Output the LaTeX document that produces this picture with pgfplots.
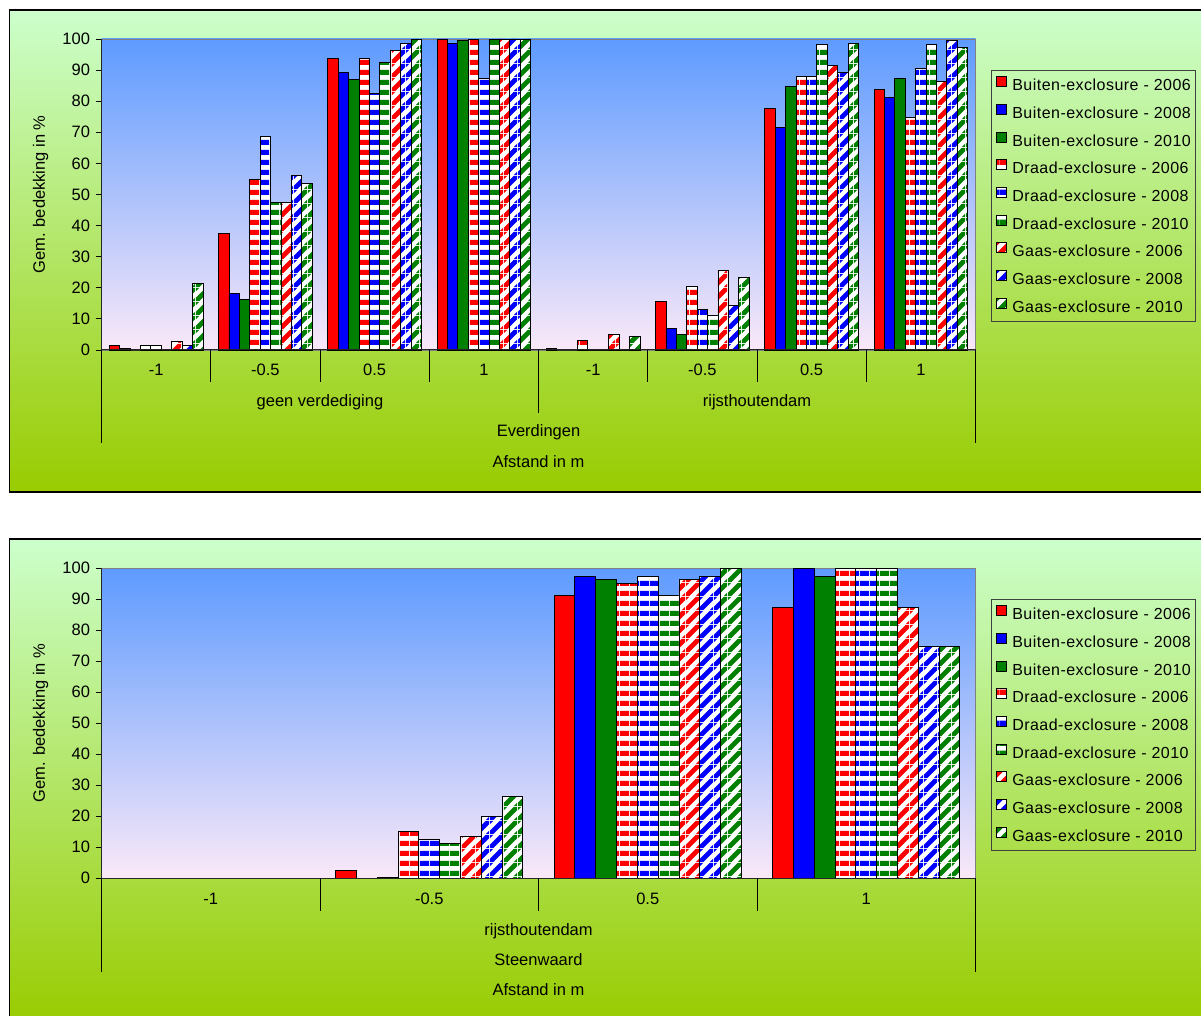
\documentclass[border=0pt]{standalone}
\usepackage{fontspec}
\setmainfont{Liberation Sans}
\newfontfamily\legfont[LetterSpace=3]{Liberation Sans}
\usepackage{pgfplots}
\usepackage{pgfplotstable}
\pgfplotsset{compat=1.18}
\usetikzlibrary{patterns}

\definecolor{xred}{RGB}{255,0,0}
\definecolor{xblue}{RGB}{0,0,255}
\definecolor{xgreen}{RGB}{0,128,0}
\definecolor{frametop}{RGB}{204,255,204}
\definecolor{framemid}{RGB}{190,238,160}
\definecolor{framebot}{RGB}{153,204,0}
\definecolor{pltop}{RGB}{94,155,255}
\definecolor{plmid}{RGB}{128,190,255}
\definecolor{plbot}{RGB}{250,232,248}

\pgfdeclarepatternformonly{hstripes}{\pgfpoint{0pt}{0pt}}{\pgfpoint{10pt}{10pt}}{\pgfpoint{10pt}{10pt}}{%
  \pgfpathrectangle{\pgfpoint{0pt}{0pt}}{\pgfpoint{10pt}{5.6pt}}\pgfusepath{fill}}
\pgfdeclarepatternformonly{dstripes}{\pgfpoint{0pt}{0pt}}{\pgfpoint{14pt}{14pt}}{\pgfpoint{14pt}{14pt}}{%
  \pgfpathmoveto{\pgfpoint{0pt}{0pt}}\pgfpathlineto{\pgfpoint{3.5pt}{0pt}}\pgfpathlineto{\pgfpoint{14pt}{10.5pt}}%
  \pgfpathlineto{\pgfpoint{14pt}{14pt}}\pgfpathlineto{\pgfpoint{10.5pt}{14pt}}\pgfpathlineto{\pgfpoint{0pt}{3.5pt}}\pgfpathclose
  \pgfpathmoveto{\pgfpoint{10.5pt}{0pt}}\pgfpathlineto{\pgfpoint{14pt}{0pt}}\pgfpathlineto{\pgfpoint{14pt}{3.5pt}}\pgfpathclose
  \pgfpathmoveto{\pgfpoint{0pt}{10.5pt}}\pgfpathlineto{\pgfpoint{0pt}{14pt}}\pgfpathlineto{\pgfpoint{3.5pt}{14pt}}\pgfpathclose
  \pgfusepath{fill}}

\newcommand{\lfont}{\fontsize{16.5}{19}\selectfont}

\tikzset{
  buiten/.style={draw=black, line width=0.9pt, fill=#1},
  draad/.style={draw=black, line width=0.9pt, preaction={fill=white}, pattern=hstripes, pattern color=#1},
  gaas/.style={draw=black, line width=0.9pt, preaction={fill=white}, pattern=dstripes, pattern color=#1},
}

\pgfplotsset{
  myaxis/.style={
    scale only axis, width=874pt,
    ybar=0pt,
    ymin=0, ymax=100, ytick={0,10,...,100},
    enlargelimits=false,
    clip=false,
    axis background/.style={shade, top color=pltop, middle color=plmid, bottom color=plbot},
    axis line style={draw=black!50, line width=0.8pt},
    ytick pos=left, tick align=outside, major tick length=6pt,
    ytick style={black, line width=0.8pt},
    x tick style={draw=none},
    ticklabel style={font=\lfont},
    /pgf/number format/assume math mode=true,
    yticklabel style={xshift=-2pt},
    xticklabel style={anchor=base, yshift=-20pt},
    ylabel={Gem. bedekking in \%},
    ylabel style={font=\lfont, at={(axis description cs:-0.0698,0.5)}, anchor=center},
    legend image code/.code={\draw[#1] (0pt,0pt) rectangle (10pt,10pt);},
    legend style={anchor=north west, draw=black!75, line width=0.8pt, fill=none,
      font=\legfont\fontsize{16}{18}\selectfont, inner xsep=5pt, inner ysep=6pt,
      row sep=10.2pt, column sep=5pt,
      nodes={inner sep=0pt, text height=11pt, text depth=3pt}},
    legend cell align=left,
  }
}

\pgfplotstableread{
x B06 B08 B10 D06 D08 D10 G06 G08 G10
0 1.4 0.4 0 1.4 1.4 0 2.7 1.4 21.5
1 37.6 18.3 16.1 54.9 68.7 47.3 47.3 56.2 53.5
2 93.6 89.3 87.0 93.6 82.5 92.4 96.4 98.6 100
3 100 98.6 99.6 100 87.3 100 100 100 100
4 0.5 0 0 3.2 0 0 5.0 0 4.5
5 15.7 6.8 5.0 20.5 13.0 11.1 25.5 14.4 23.2
6 77.6 71.5 84.8 87.9 87.9 98.3 91.5 89.3 98.6
7 83.9 81.2 87.4 74.9 90.6 98.3 86.2 99.6 97.3
}\topdata

\pgfplotstableread{
x B06 B08 B10 D06 D08 D10 G06 G08 G10
0 0 0 0 0 0 0 0 0 0
1 2.5 0 0.3 14.9 12.3 11.0 13.5 19.9 26.2
2 91.0 97.3 96.3 95.1 97.3 91.0 96.3 97.3 100
3 87.4 100 97.3 100 100 100 87.4 74.8 74.8
}\botdata

\begin{document}
\begin{tikzpicture}
\useasboundingbox (0pt,0pt) rectangle (1201pt,1015pt);
\fill[white] (0pt,0pt) rectangle (1201pt,1015pt);
\shade[top color=frametop, middle color=framemid, bottom color=framebot] (9.5pt,523pt) rectangle (1215pt,1005pt);
\draw[line width=1.2pt] (9.5pt,523pt) rectangle (1215pt,1005pt);
\shade[top color=frametop, middle color=framemid, bottom color=framebot] (9.5pt,-8pt) rectangle (1215pt,476pt);
\draw[line width=1.2pt] (9.5pt,-8pt) rectangle (1215pt,476pt);

\begin{axis}[myaxis, at={(101.5pt,665pt)}, anchor=south west, height=311pt,
  xmin=-0.5, xmax=7.5, xtick={0,...,7},
  xticklabels={-1,-0.5,0.5,1,-1,-0.5,0.5,1},
  bar width=10.405pt,
  legend style={at={(1.0177,0.9003)}}]
\addplot[buiten=xred] table[x=x,y=B06]{\topdata};
\addplot[buiten=xblue] table[x=x,y=B08]{\topdata};
\addplot[buiten=xgreen] table[x=x,y=B10]{\topdata};
\addplot[draad=xred] table[x=x,y=D06]{\topdata};
\addplot[draad=xblue] table[x=x,y=D08]{\topdata};
\addplot[draad=xgreen] table[x=x,y=D10]{\topdata};
\addplot[gaas=xred] table[x=x,y=G06]{\topdata};
\addplot[gaas=xblue] table[x=x,y=G08]{\topdata};
\addplot[gaas=xgreen] table[x=x,y=G10]{\topdata};
\legend{Buiten-exclosure - 2006,Buiten-exclosure - 2008,Buiten-exclosure - 2010,Draad-exclosure - 2006,Draad-exclosure - 2008,Draad-exclosure - 2010,Gaas-exclosure - 2006,Gaas-exclosure - 2008,Gaas-exclosure - 2010}
\draw[black!85, line width=1pt] (rel axis cs:0,1) -- (rel axis cs:0,0) -- (rel axis cs:1,0);
\pgfplotsinvokeforeach{0.5,1.5,2.5,4.5,5.5,6.5}{
  \draw[black, line width=0.8pt] (axis cs:#1,0) -- ([yshift=-32pt]axis cs:#1,0);
}
\draw[black, line width=0.8pt] (axis cs:3.5,0) -- ([yshift=-63pt]axis cs:3.5,0);
\draw[black, line width=0.8pt] (axis cs:-0.5,0) -- ([yshift=-93pt]axis cs:-0.5,0);
\draw[black, line width=0.8pt] (axis cs:7.5,0) -- ([yshift=-93pt]axis cs:7.5,0);
\node[anchor=base, font=\lfont] at ([yshift=-56.5pt]axis cs:1.5,0) {geen verdediging};
\node[anchor=base, font=\lfont] at ([yshift=-56.5pt]axis cs:5.5,0) {rijsthoutendam};
\node[anchor=base, font=\lfont] at ([yshift=-86.5pt]axis cs:3.5,0) {Everdingen};
\node[anchor=base, font=\lfont] at ([yshift=-117.5pt]axis cs:3.5,0) {Afstand in m};
\end{axis}

\begin{axis}[myaxis, at={(101.5pt,137pt)}, anchor=south west, height=310pt,
  xmin=-0.5, xmax=3.5, xtick={0,...,3},
  xticklabels={-1,-0.5,0.5,1},
  bar width=20.81pt,
  legend style={at={(1.0177,0.9)}}]
\addplot[buiten=xred] table[x=x,y=B06]{\botdata};
\addplot[buiten=xblue] table[x=x,y=B08]{\botdata};
\addplot[buiten=xgreen] table[x=x,y=B10]{\botdata};
\addplot[draad=xred] table[x=x,y=D06]{\botdata};
\addplot[draad=xblue] table[x=x,y=D08]{\botdata};
\addplot[draad=xgreen] table[x=x,y=D10]{\botdata};
\addplot[gaas=xred] table[x=x,y=G06]{\botdata};
\addplot[gaas=xblue] table[x=x,y=G08]{\botdata};
\addplot[gaas=xgreen] table[x=x,y=G10]{\botdata};
\legend{Buiten-exclosure - 2006,Buiten-exclosure - 2008,Buiten-exclosure - 2010,Draad-exclosure - 2006,Draad-exclosure - 2008,Draad-exclosure - 2010,Gaas-exclosure - 2006,Gaas-exclosure - 2008,Gaas-exclosure - 2010}
\draw[black!85, line width=1pt] (rel axis cs:0,1) -- (rel axis cs:0,0) -- (rel axis cs:1,0);
\pgfplotsinvokeforeach{0.5,1.5,2.5}{
  \draw[black, line width=0.8pt] (axis cs:#1,0) -- ([yshift=-33pt]axis cs:#1,0);
}
\draw[black, line width=0.8pt] (axis cs:-0.5,0) -- ([yshift=-94pt]axis cs:-0.5,0);
\draw[black, line width=0.8pt] (axis cs:3.5,0) -- ([yshift=-94pt]axis cs:3.5,0);
\node[anchor=base, font=\lfont] at ([yshift=-57.5pt]axis cs:1.5,0) {rijsthoutendam};
\node[anchor=base, font=\lfont] at ([yshift=-87pt]axis cs:1.5,0) {Steenwaard};
\node[anchor=base, font=\lfont] at ([yshift=-117pt]axis cs:1.5,0) {Afstand in m};
\end{axis}
\end{tikzpicture}
\end{document}
